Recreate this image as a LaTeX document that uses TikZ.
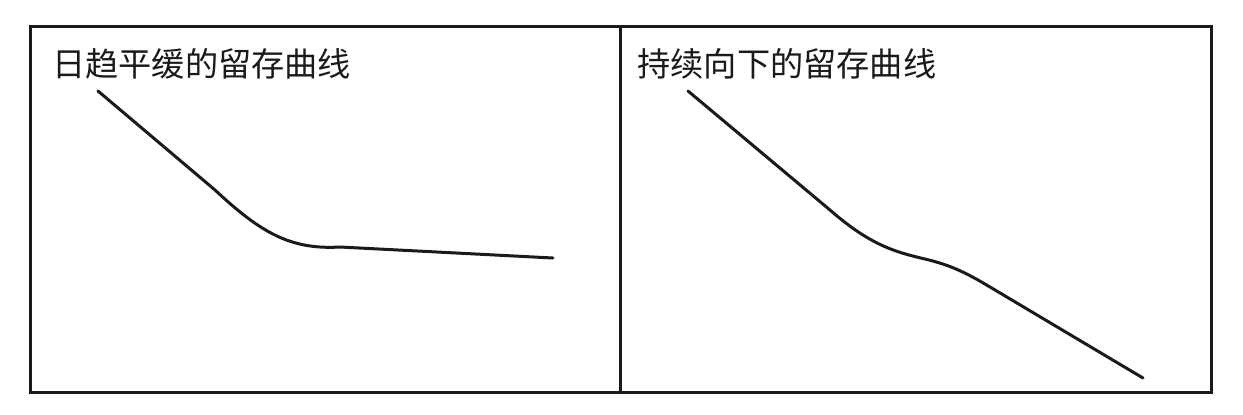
\documentclass[tikz,border=0pt]{standalone}
\usepackage{fontspec}
\newfontfamily\cjk{Noto Sans CJK SC}
\usepackage{tikz}
\usetikzlibrary{positioning}
\usepackage{xcolor}
\definecolor{rcink}{RGB}{26,26,26}
\tikzstyle{frame} = [line width=1.5pt,color=rcink]
\tikzstyle{curve} = [line width=1.5pt,color=rcink,line cap=round,line join=round]
\tikzstyle{title} = [anchor=west,inner sep=0pt,font=\cjk\fontsize{16.6pt}{18pt}\selectfont,color=rcink]

\begin{document}
\begin{tikzpicture}[x=0.5pt,y=-0.5pt]
\useasboundingbox (0,0) rectangle (1243,414);
% Panels
\draw[frame] (30,26) rectangle (1211,392);
\draw[frame] (620,26) -- (620,392);

% Titles
\node[title] (flatTitle) at (52,64) {日趋平缓的留存曲线};
\node[title] (downTitle) at (637,64) {持续向下的留存曲线};

% Flattening curve
\draw[curve] (98,91) -- (215,190) .. controls (260,232) and (290,250) .. (340,247) -- (553,258);

% Declining curve
\draw[curve] (688,91) -- (830,210) .. controls (870,245) and (895,252) .. (925,259)
  .. controls (950,265) and (965,272) .. (990,287) -- (1143,378);
\end{tikzpicture}
\end{document}
